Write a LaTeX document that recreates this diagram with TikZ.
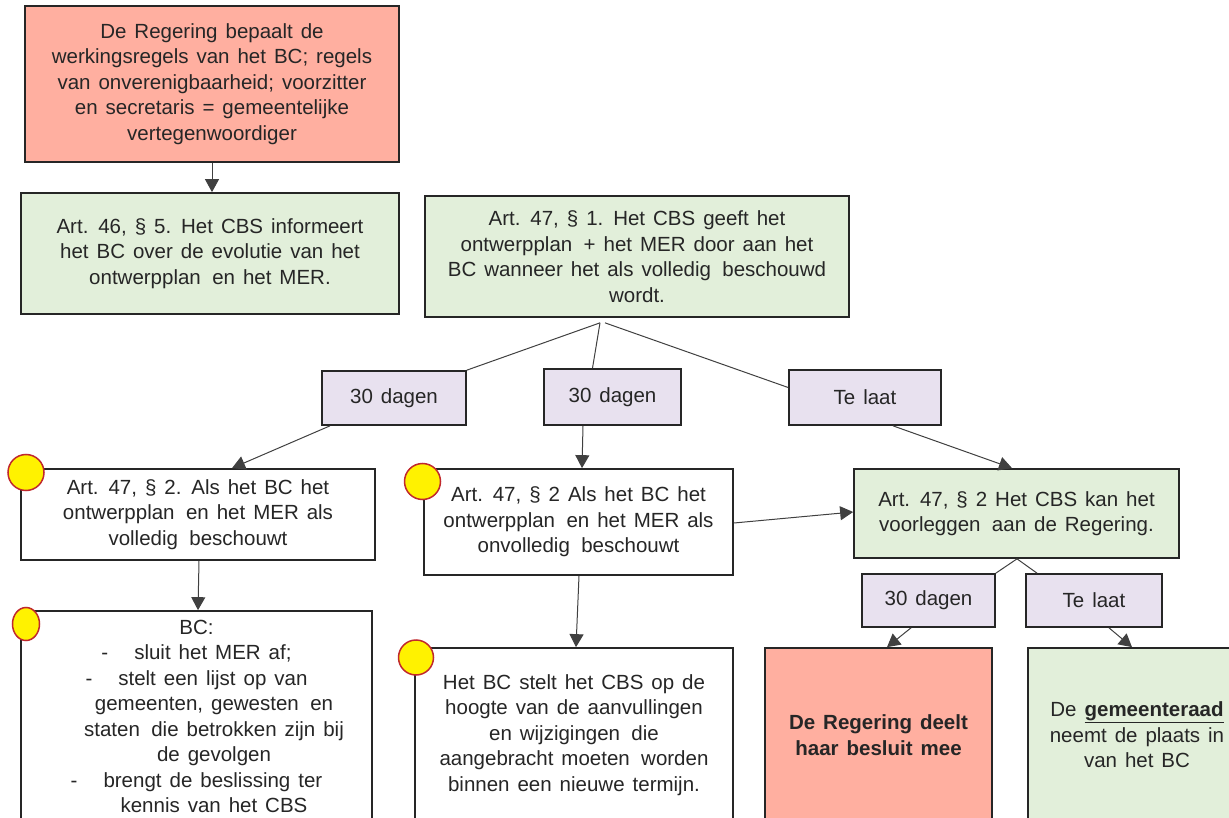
\documentclass[tikz,border=0pt]{standalone}
\usepackage{fontspec}
\setmainfont{Liberation Sans}[WordSpace=1.4]
\usetikzlibrary{arrows.meta,shapes.geometric}
\definecolor{salmon}{HTML}{FFAFA0}
\definecolor{lightgreen}{HTML}{E2EFDA}
\definecolor{lilac}{HTML}{E8E1EF}
\definecolor{darkred}{HTML}{C0282D}
\begin{document}
\begin{tikzpicture}[x=1pt,y=1pt]
\tikzstyle{every node}+=[inner sep=0pt]
\tikzstyle{box}=[draw=black!85, line width=1.7pt, align=center, text=black!85, font=\fontsize{20.5}{25.5}\selectfont]
\tikzstyle{redbox}=[box, fill=salmon]
\tikzstyle{greenbox}=[box, fill=lightgreen]
\tikzstyle{whitebox}=[box, fill=white]
\tikzstyle{delay}=[box, fill=lilac]
\tikzstyle{yellowdot}=[circle, draw=darkred, line width=1.5pt, fill=yellow]
\tikzstyle{link}=[draw=black!75, line width=1pt]
\tikzstyle{arrow}=[link, -{Triangle[length=13pt,width=14pt]}]
\useasboundingbox (0,0) rectangle (1229,-818);
% top row
\node [redbox, minimum width=374, minimum height=156] (regering) at (212,-84) {De Regering bepaalt de\\werkingsregels van het BC; regels\\van onverenigbaarheid; voorzitter\\en secretaris = gemeentelijke\\vertegenwoordiger};
\node [greenbox, minimum width=378, minimum height=121] (cbs46) at (210,-253.5) {Art. 46, § 5. Het CBS informeert\\het BC over de evolutie van het\\ontwerpplan\, en het MER.};
\node [greenbox, minimum width=424, minimum height=121] (cbs47) at (637,-256.5) {Art. 47, § 1. Het CBS geeft het\\ontwerpplan\, + het MER door aan het\\BC wanneer het als volledig\, beschouwd\\wordt.};
% delays
\node [delay, minimum width=144, minimum height=54] (days1) at (394,-398) {30 dagen};
\node [delay, minimum width=137, minimum height=56] (days2) at (612.5,-397) {30 dagen};
\node [delay, minimum width=152, minimum height=55] (late1) at (865,-397.5) {Te laat};
% middle row
\node [whitebox, minimum width=354, minimum height=91] (volledig) at (198,-514.5) {Art. 47, § 2. Als het BC het\\ontwerpplan\, en het MER als\\volledig\, beschouwt};
\node [whitebox, minimum width=309, minimum height=106] (onvolledig) at (578.5,-522) {Art. 47, § 2 Als het BC het\\ontwerpplan\, en het MER als\\onvolledig\, beschouwt};
\node [greenbox, minimum width=325, minimum height=89] (voorleggen) at (1016.5,-513.5) {Art. 47, § 2 Het CBS kan het\\voorleggen\, aan de Regering.};
\node [delay, minimum width=133, minimum height=53] (days3) at (928.5,-600.5) {30 dagen};
\node [delay, minimum width=136, minimum height=53] (late2) at (1094,-600.5) {Te laat};
% bottom row
\node [whitebox, minimum width=351, minimum height=211] (afsluiten) at (196.5,-716.5) {BC:\\-\hspace{26pt}sluit het MER af;\\-\hspace{26pt}stelt een lijst op van\\\hspace*{35pt}gemeenten, gewesten\, en\\\hspace*{35pt}staten\, die betrokken zijn bij\\\hspace*{35pt}de gevolgen\\-\hspace{26pt}brengt de beslissing ter\\\hspace*{35pt}kennis van het CBS};
\node [whitebox, minimum width=318, minimum height=174] (aanvullen) at (574,-735) {Het BC stelt het CBS op de\\hoogte van de aanvullingen\\en wijzigingen\, die\\aangebracht moeten\, worden\\binnen een nieuwe termijn.};
\node [redbox, minimum width=227, minimum height=174] (besluit) at (878.5,-735) {\textbf{De Regering deelt}\\\textbf{haar besluit mee}};
\node [greenbox, minimum width=218, minimum height=174] (raad) at (1137,-735) {De \textbf{\underline{gemeenteraad}}\\neemt de plaats in\\van het BC};
% markers
\node [yellowdot, minimum size=36] (dot1) at (26,-472.5) {};
\node [yellowdot, minimum size=36] (dot2) at (422.5,-481.5) {};
\node [yellowdot, ellipse, minimum width=27, minimum height=33] (dot3) at (26,-624) {};
\node [yellowdot, minimum size=35] (dot4) at (416,-657.5) {};
% connectors
\coordinate (fork1) at ([xshift=-37pt,yshift=-5pt]cbs47.south);
\coordinate (fork2) at ([xshift=-32pt,yshift=-5pt]cbs47.south);
\coordinate (fork3) at ([xshift=0.5pt]voorleggen.south);
\draw [arrow] (regering.south) -- (regering.south |- cbs46.north);
\draw [link] (fork1) -- (days1.north east);
\draw [link] (fork1) -- ([xshift=-20pt]days2.north);
\draw [link] (fork2) -- ([yshift=10pt]late1.west);
\draw [arrow] ([xshift=-64pt]days1.south) -- ([xshift=34pt]volledig.north);
\draw [arrow] ([xshift=-29.5pt]days2.south) -- ([xshift=3.5pt]onvolledig.north);
\draw [arrow] ([xshift=28pt]late1.south) -- ([xshift=-4.5pt]voorleggen.north);
\draw [arrow] ([yshift=-1pt]onvolledig.east) -- ([yshift=1.5pt]voorleggen.west);
\draw [arrow] ([xshift=1pt]volledig.south) -- ([xshift=1.5pt]afsluiten.north);
\draw [arrow] ([xshift=0.5pt]onvolledig.south) -- ([xshift=2pt]aanvullen.north);
\draw [link] (fork3) -- (days3.north east);
\draw [link] (fork3) -- ([xshift=-57pt]late2.north);
\draw [arrow] ([xshift=-17.5pt]days3.south) -- ([xshift=8.5pt]besluit.north);
\draw [arrow] ([xshift=15pt]late2.south) -- ([xshift=-5pt]raad.north);
\end{tikzpicture}
\end{document}
